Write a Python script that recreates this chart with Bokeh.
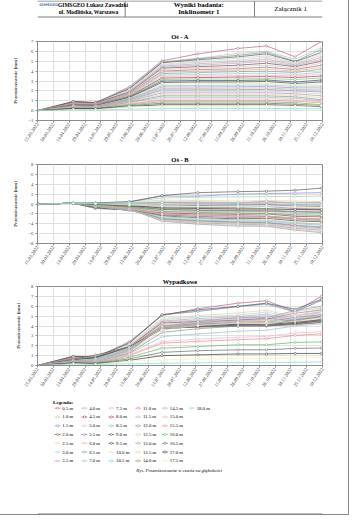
from datetime import datetime
from bokeh.plotting import figure
from bokeh.layouts import column
from bokeh.models import Range1d, FixedTicker, DatetimeTickFormatter
from bokeh.core.properties import value
from bokeh.embed import file_html
from bokeh.resources import INLINE

# ---------------- data ----------------
measure_dates = ["15.03.2022", "18.04.2022", "09.05.2022", "10.06.2022", "11.07.2022",
                 "14.08.2022", "21.09.2022", "18.10.2022", "14.11.2022", "09.12.2022"]

tick_labels = ["15.03.2022", "30.03.2022", "14.04.2022", "29.04.2022", "14.05.2022",
               "29.05.2022", "13.06.2022", "28.06.2022", "13.07.2022", "28.07.2022",
               "12.08.2022", "27.08.2022", "11.09.2022", "26.09.2022", "11.10.2022",
               "26.10.2022", "10.11.2022", "25.11.2022", "10.12.2022"]

depths = ["0.5 m", "1.0 m", "1.5 m", "2.0 m", "2.5 m", "3.0 m", "3.5 m",
          "4.0 m", "4.5 m", "5.0 m", "5.5 m", "6.0 m", "6.5 m", "7.0 m",
          "7.5 m", "8.0 m", "8.5 m", "9.0 m", "9.5 m", "10.0 m", "10.5 m",
          "11.0 m", "11.5 m", "12.0 m", "12.5 m", "13.0 m", "13.5 m", "14.0 m",
          "14.5 m", "15.0 m", "15.5 m", "16.0 m", "16.5 m", "17.0 m", "17.5 m",
          "18.0 m"]

colors = ["#c0608a", "#a0d8a0", "#8888cc", "#5a5a5a", "#f2cc95", "#98dfe6", "#cc95c0",
          "#b0b0b0", "#8c4060", "#dcc8a0", "#7878b0", "#f2b070", "#78a0a0", "#a8b8cc",
          "#f2b0bc", "#a03a55", "#78c878", "#3a4a78", "#484848", "#f2e69a", "#66d8cc",
          "#cc7acc", "#a8c0a8", "#9488b0", "#cccccc", "#a0a0a0", "#e6ccb0", "#909090",
          "#98c0c0", "#f2b4cc", "#e88888", "#5cbc5c", "#686868", "#383838", "#f2f2b4",
          "#7cd8d8"]

os_a = [
    [0, 0.85, 0.80, 2.40, 5.05, 5.75, 6.30, 6.55, 5.45, 7.00],
    [0, 0.95, 0.85, 2.30, 4.95, 5.30, 5.80, 6.00, 5.20, 6.40],
    [0, 0.90, 0.82, 2.25, 4.90, 5.25, 5.60, 5.90, 5.00, 6.20],
    [0, 0.92, 0.80, 2.20, 4.85, 5.15, 5.45, 5.75, 4.95, 5.90],
    [0, 0.80, 0.75, 2.10, 4.70, 5.00, 5.30, 5.55, 4.85, 5.80],
    [0, 0.78, 0.72, 2.05, 4.60, 4.90, 5.10, 5.40, 4.75, 5.60],
    [0, 0.75, 0.70, 1.95, 4.50, 4.75, 4.95, 5.20, 4.65, 5.40],
    [0, 0.72, 0.68, 1.90, 4.40, 4.60, 4.80, 5.00, 4.55, 5.20],
    [0, 0.88, 0.78, 1.85, 4.30, 4.45, 4.60, 4.80, 4.45, 5.00],
    [0, 0.70, 0.65, 1.80, 4.15, 4.30, 4.45, 4.60, 4.30, 4.80],
    [0, 0.68, 0.62, 1.75, 4.00, 4.15, 4.25, 4.40, 4.15, 4.60],
    [0, 0.65, 0.60, 1.70, 3.90, 4.00, 4.10, 4.20, 4.00, 4.40],
    [0, 0.62, 0.58, 1.62, 3.75, 3.85, 3.95, 4.00, 3.85, 4.20],
    [0, 0.60, 0.55, 1.55, 3.60, 3.65, 3.75, 3.80, 3.65, 3.90],
    [0, 0.58, 0.52, 1.50, 3.45, 3.50, 3.55, 3.60, 3.50, 3.70],
    [0, 0.62, 0.56, 1.45, 3.30, 3.35, 3.40, 3.45, 3.35, 3.50],
    [0, 0.55, 0.50, 1.40, 3.15, 3.20, 3.20, 3.25, 3.15, 3.30],
    [0, 0.52, 0.48, 1.35, 3.00, 3.05, 3.05, 3.10, 2.90, 3.10],
    [0, 0.50, 0.46, 1.30, 2.85, 2.90, 2.90, 2.95, 2.75, 2.90],
    [0, 0.48, 0.44, 1.25, 2.70, 2.72, 2.75, 2.78, 2.60, 2.70],
    [0, 0.46, 0.42, 1.20, 2.55, 2.55, 2.58, 2.60, 2.45, 2.50],
    [0, 0.45, 0.40, 1.15, 2.40, 2.40, 2.42, 2.45, 2.30, 2.30],
    [0, 0.42, 0.38, 1.10, 2.25, 2.25, 2.28, 2.30, 2.15, 2.10],
    [0, 0.40, 0.36, 1.05, 2.10, 2.10, 2.12, 2.15, 2.00, 1.90],
    [0, 0.38, 0.34, 1.00, 1.95, 1.95, 1.95, 1.98, 1.85, 1.70],
    [0, 0.36, 0.32, 0.95, 1.80, 1.80, 1.80, 1.82, 1.70, 1.50],
    [0, 0.34, 0.30, 0.90, 1.65, 1.65, 1.65, 1.66, 1.55, 1.30],
    [0, 0.32, 0.28, 0.85, 1.50, 1.50, 1.50, 1.50, 1.40, 1.10],
    [0, 0.30, 0.26, 0.80, 1.35, 1.35, 1.35, 1.35, 1.25, 1.00],
    [0, 0.28, 0.25, 0.72, 1.20, 1.20, 1.20, 1.20, 1.10, 0.90],
    [0, 0.26, 0.23, 0.65, 1.05, 1.05, 1.05, 1.05, 0.95, 0.80],
    [0, 0.24, 0.22, 0.58, 0.90, 0.90, 0.90, 0.90, 0.80, 0.60],
    [0, 0.22, 0.20, 0.50, 0.75, 0.75, 0.75, 0.75, 0.65, 0.50],
    [0, 0.20, 0.18, 0.42, 0.60, 0.60, 0.60, 0.60, 0.52, 0.40],
    [0, 0.10, 0.10, 0.40, 0.40, 0.42, 0.42, 0.45, 0.45, 0.50],
    [0, 0.05, 0.05, 0.15, 0.20, 0.22, 0.22, 0.22, 0.20, 0.20],
]

os_b = [
    [0, 0.15, 0.10, 0.20, 0.30, 0.35, 0.30, 0.40, 0.30, 0.30],
    [0, 0.15, 0.20, 0.45, 1.20, 1.40, 1.45, 1.50, 1.50, 1.60],
    [0, 0.15, 0.20, 0.50, 1.60, 1.60, 2.00, 2.10, 2.20, 2.30],
    [0, 0.15, 0.20, 0.40, 1.70, 2.30, 2.50, 2.60, 2.80, 3.20],
    [0, 0.15, 0.10, 0.30, 0.80, 0.70, 0.60, 0.70, 0.60, 0.50],
    [0, 0.15, 0.10, 0.20, 0.50, 0.40, 0.30, 0.40, 0.30, 0.20],
    [0, 0.15, 0.00, 0.00, 0.20, 0.10, 0.00, 0.10, -0.10, -0.20],
    [0, 0.15, 0.05, 0.10, 0.30, 0.20, 0.10, 0.60, 0.00, 0.00],
    [0, 0.15, -0.30, -0.40, -0.20, -0.30, -0.20, -0.10, -0.40, -0.50],
    [0, 0.15, -0.20, -0.50, -0.40, -0.50, -0.50, -0.40, -0.70, -0.80],
    [0, 0.15, -0.40, -0.60, -0.60, -0.70, -0.70, -0.50, -0.90, -1.00],
    [0, 0.15, -0.50, -0.80, -0.90, -1.00, -1.00, -0.90, -1.20, -1.30],
    [0, 0.15, -0.60, -0.90, -1.10, -1.20, -1.30, -1.20, -1.50, -1.60],
    [0, 0.15, -0.70, -1.00, -1.40, -1.50, -1.60, -1.50, -1.90, -2.00],
    [0, 0.15, -0.80, -1.10, -1.60, -1.70, -1.80, -1.80, -2.20, -2.30],
    [0, 0.15, -0.90, -1.20, -1.80, -2.00, -2.10, -2.00, -2.50, -2.60],
    [0, 0.15, -0.80, -1.20, -2.00, -2.30, -2.40, -2.40, -2.80, -3.00],
    [0, 0.15, -0.70, -1.25, -2.20, -2.50, -2.70, -2.60, -3.10, -3.30],
    [0, 0.15, -0.60, -1.30, -2.40, -2.80, -3.00, -2.90, -3.40, -3.60],
    [0, 0.15, -0.50, -1.30, -2.60, -3.00, -3.30, -3.20, -3.70, -4.00],
    [0, 0.15, -0.50, -1.25, -2.80, -3.20, -3.50, -3.50, -4.00, -4.30],
    [0, 0.15, -0.40, -1.20, -3.00, -3.40, -3.70, -3.70, -4.30, -4.60],
    [0, 0.15, -0.40, -1.15, -3.10, -3.60, -3.90, -4.00, -4.60, -5.00],
    [0, 0.15, -0.30, -1.10, -3.20, -3.80, -4.10, -4.20, -4.90, -5.30],
    [0, 0.15, -0.30, -1.05, -3.35, -3.95, -4.30, -4.40, -5.10, -5.60],
    [0, 0.15, -0.25, -1.00, -3.50, -4.10, -4.50, -4.50, -5.30, -5.80],
    [0, 0.15, -0.20, -0.95, -3.20, -3.70, -4.00, -4.10, -4.80, -5.20],
    [0, 0.15, -0.20, -0.90, -3.00, -3.40, -3.70, -3.80, -4.40, -4.80],
    [0, 0.15, -0.15, -0.85, -2.60, -2.90, -3.20, -3.30, -3.80, -4.10],
    [0, 0.15, -0.15, -0.80, -2.10, -2.40, -2.60, -2.70, -3.10, -3.30],
    [0, 0.15, -0.10, -0.75, -2.00, -2.20, -2.40, -2.50, -2.90, -3.10],
    [0, 0.15, -0.10, -0.60, -1.50, -1.70, -1.90, -1.90, -2.20, -2.30],
    [0, 0.15, -0.05, -0.45, -1.10, -1.30, -1.40, -1.40, -1.60, -1.70],
    [0, 0.15, 0.00, -0.30, -0.80, -0.90, -1.00, -1.00, -1.10, -1.15],
    [0, 0.15, 0.05, -0.20, -0.40, -0.50, -0.55, -0.55, -0.60, -0.65],
    [0, 0.15, 0.10, 0.10, -0.10, -0.15, -0.20, -0.20, -0.25, -0.30],
]

wypadkowe = [
    [0, 0.86, 0.81, 2.41, 5.06, 5.76, 6.31, 6.56, 5.46, 7.01],
    [0, 0.96, 0.87, 2.34, 5.09, 5.48, 5.98, 6.18, 5.41, 6.60],
    [0, 0.91, 0.84, 2.30, 5.15, 5.49, 5.95, 6.26, 5.46, 6.61],
    [0, 0.93, 0.82, 2.24, 5.14, 5.64, 6.00, 6.31, 5.69, 6.71],
    [0, 0.81, 0.76, 2.12, 4.77, 5.05, 5.33, 5.59, 4.89, 5.82],
    [0, 0.79, 0.73, 2.06, 4.63, 4.92, 5.11, 5.41, 4.76, 5.60],
    [0, 0.76, 0.70, 1.95, 4.50, 4.75, 4.95, 5.20, 4.65, 5.40],
    [0, 0.74, 0.68, 1.90, 4.41, 4.60, 4.80, 5.04, 4.55, 5.20],
    [0, 0.89, 0.84, 1.89, 4.30, 4.46, 4.60, 4.80, 4.47, 5.02],
    [0, 0.72, 0.68, 1.87, 4.17, 4.33, 4.48, 4.62, 4.36, 4.87],
    [0, 0.70, 0.74, 1.85, 4.04, 4.21, 4.31, 4.43, 4.25, 4.71],
    [0, 0.67, 0.78, 1.88, 4.00, 4.12, 4.22, 4.30, 4.18, 4.59],
    [0, 0.64, 0.83, 1.85, 3.91, 4.03, 4.16, 4.18, 4.13, 4.49],
    [0, 0.62, 0.89, 1.84, 3.86, 3.95, 4.08, 4.09, 4.11, 4.38],
    [0, 0.60, 0.95, 1.86, 3.80, 3.89, 3.98, 4.02, 4.13, 4.36],
    [0, 0.64, 1.06, 1.88, 3.76, 3.90, 4.00, 3.99, 4.18, 4.36],
    [0, 0.57, 0.94, 1.84, 3.73, 3.94, 4.00, 4.04, 4.21, 4.46],
    [0, 0.54, 0.85, 1.84, 3.72, 3.94, 4.07, 4.05, 4.25, 4.53],
    [0, 0.52, 0.76, 1.84, 3.73, 4.03, 4.17, 4.14, 4.37, 4.62],
    [0, 0.50, 0.67, 1.80, 3.75, 4.05, 4.30, 4.24, 4.52, 4.83],
    [0, 0.48, 0.65, 1.73, 3.79, 4.09, 4.35, 4.36, 4.69, 4.97],
    [0, 0.47, 0.57, 1.66, 3.84, 4.16, 4.42, 4.44, 4.88, 5.14],
    [0, 0.45, 0.55, 1.59, 3.83, 4.25, 4.52, 4.61, 5.08, 5.42],
    [0, 0.43, 0.47, 1.52, 3.83, 4.34, 4.62, 4.72, 5.29, 5.63],
    [0, 0.41, 0.45, 1.45, 3.88, 4.41, 4.72, 4.83, 5.43, 5.85],
    [0, 0.39, 0.41, 1.38, 3.94, 4.48, 4.85, 4.85, 5.57, 5.99],
    [0, 0.37, 0.36, 1.31, 3.60, 4.05, 4.33, 4.42, 5.04, 5.36],
    [0, 0.35, 0.34, 1.24, 3.35, 3.72, 3.99, 4.09, 4.62, 4.92],
    [0, 0.34, 0.30, 1.17, 2.93, 3.20, 3.47, 3.57, 4.00, 4.22],
    [0, 0.32, 0.29, 1.08, 2.42, 2.68, 2.86, 2.95, 3.29, 3.42],
    [0, 0.30, 0.25, 0.99, 2.26, 2.44, 2.62, 2.71, 3.05, 3.20],
    [0, 0.28, 0.24, 0.83, 1.75, 1.92, 2.10, 2.10, 2.34, 2.38],
    [0, 0.27, 0.21, 0.67, 1.33, 1.50, 1.59, 1.59, 1.73, 1.77],
    [0, 0.25, 0.18, 0.52, 1.00, 1.08, 1.17, 1.17, 1.22, 1.22],
    [0, 0.18, 0.11, 0.45, 0.57, 0.65, 0.69, 0.71, 0.75, 0.82],
    [0, 0.16, 0.11, 0.18, 0.22, 0.27, 0.30, 0.30, 0.32, 0.36],
]

y_ticks_a = [-1, 0, 1, 2, 3, 4, 5, 6, 7]
y_ticks_b = [-8, -6, -4, -2, 0, 2, 4, 6, 8]
y_ticks_c = [0, 1, 2, 3, 4, 5, 6, 7, 8]

# ---------------- helpers ----------------
SERIF = "Liberation Serif"
W = 348
EPOCH = datetime(1970, 1, 1)


def to_dt(s):
    return datetime.strptime(s, "%d.%m.%Y")


def to_ms(s):
    return (to_dt(s) - EPOCH).total_seconds() * 1000.0


x_dates = [to_dt(s) for s in measure_dates]
x_ticks = [to_ms(s) for s in tick_labels]
x_start = to_dt(tick_labels[0])
x_end = to_dt(tick_labels[-1])


def deco(h):
    p = figure(width=W, height=h, x_range=Range1d(0, W), y_range=Range1d(h, 0),
               output_backend="svg", toolbar_location=None, min_border=0,
               x_axis_type=None, y_axis_type=None, outline_line_color=None)
    p.background_fill_color = "white"
    p.border_fill_color = "white"
    return p


def chart(title, series, y0, y1, yticks, height, top, bottom):
    p = figure(width=W, height=height, x_axis_type="datetime",
               x_range=Range1d(x_start, x_end), y_range=Range1d(y0, y1),
               output_backend="svg", toolbar_location=None, title=title,
               min_border_left=37, min_border_right=26,
               min_border_top=top, min_border_bottom=bottom)
    p.title.align = "center"
    p.title.text_font = SERIF
    p.title.text_font_size = "6.5px"
    p.title.text_font_style = "bold"
    p.title.text_color = "black"
    p.title.standoff = 3
    p.outline_line_color = "#8c8c8c"
    p.outline_line_width = 1

    xt = FixedTicker(ticks=x_ticks)
    p.xaxis.ticker = xt
    p.xgrid.ticker = xt
    fmt = "%d.%m.%Y"
    p.xaxis.formatter = DatetimeTickFormatter(
        microseconds=fmt, milliseconds=fmt, seconds=fmt, minsec=fmt, minutes=fmt,
        hourmin=fmt, hours=fmt, days=fmt, months=fmt, years=fmt)
    p.xaxis.major_label_orientation = 0.98
    p.xaxis.major_label_text_font = SERIF
    p.xaxis.major_label_text_font_size = "4.8px"
    p.xaxis.major_label_standoff = 1

    yt = FixedTicker(ticks=yticks)
    p.yaxis.ticker = yt
    p.ygrid.ticker = yt
    p.yaxis.major_label_text_font = SERIF
    p.yaxis.major_label_text_font_size = "4.8px"
    p.yaxis.major_label_standoff = 2
    p.yaxis.axis_label = "Przemieszczenie [mm]"
    p.yaxis.axis_label_text_font = SERIF
    p.yaxis.axis_label_text_font_size = "4.8px"
    p.yaxis.axis_label_text_font_style = "bold"
    p.yaxis.axis_label_standoff = 7

    for ax in (p.xaxis, p.yaxis):
        ax.axis_line_color = "#8c8c8c"
        ax.major_tick_line_color = "#8c8c8c"
        ax.major_tick_out = 2
        ax.major_tick_in = 0
        ax.minor_tick_line_color = None
    p.xgrid.grid_line_color = "#e0e0e0"
    p.ygrid.grid_line_color = "#e0e0e0"

    for vals, col in zip(series, colors):
        p.line(x_dates, vals, line_color=col, line_width=0.7)
        p.scatter(x_dates, vals, marker="circle", size=2.2, fill_color="white",
                  line_color=col, line_width=0.5)
    return p


# ---------------- header ----------------
hdr = deco(24)
hdr.segment(x0=[0, 0, 107, 265], y0=[0.5, 16.5, 0.5, 0.5],
            x1=[W, W, 107, 265], y1=[0.5, 16.5, 16.5, 16.5],
            line_color="#7f7f7f", line_width=1)
hdr.text(x=[2], y=[4.5], text=["GIMSGEO"], text_font=value("DejaVu Sans"),
         text_font_size="3.6px", text_font_style="bold", text_color="#5878a8",
         text_baseline="middle", text_align="left")
hdr.text(x=[25, 26], y=[4.5, 11.5],
         text=["GIMSGEO Łukasz Zawadzki", "ul. Modlińska, Warszawa"],
         text_font=value(SERIF), text_font_size="5.5px", text_font_style="bold",
         text_baseline="middle", text_align="left", text_color="black")
hdr.text(x=[197, 197], y=[4.5, 11.5], text=["Wyniki badania:", "Inklinometr 1"],
         text_font=value(SERIF), text_font_size="7px", text_font_style="bold",
         text_baseline="middle", text_align="center", text_color="black")
hdr.text(x=[309], y=[8.5], text=["Załącznik 1"], text_font=value(SERIF),
         text_font_size="7px", text_baseline="middle", text_align="center",
         text_color="black")

# ---------------- charts ----------------
pa = chart("Oś - A", os_a, -1, 7, y_ticks_a, 126, 17, 30)
pb = chart("Oś - B", os_b, -8, 8, y_ticks_b, 122, 14, 29)
pc = chart("Wypadkowe", wypadkowe, 0, 8, y_ticks_c, 123, 14, 30)

# ---------------- legend + caption ----------------
leg = deco(119)
leg.text(x=[19], y=[6.7], text=["Legenda:"], text_font=value(SERIF),
         text_font_size="5px", text_font_style="bold", text_baseline="middle",
         text_color="black")
sx0, sx1, mx, tx, ty = [], [], [], [], []
for k in range(len(depths)):
    col, row = divmod(k, 7)
    x0 = 21 + col * 32.8
    y = 12.7 + row * 8.77
    sx0.append(x0)
    sx1.append(x0 + 7)
    mx.append(x0 + 3.5)
    tx.append(x0 + 9.3)
    ty.append(y)
leg.segment(x0=sx0, y0=ty, x1=sx1, y1=ty, line_color=colors, line_width=0.7)
leg.scatter(x=mx, y=ty, marker="circle", size=2.2, fill_color="white",
            line_color=colors, line_width=0.5)
leg.text(x=tx, y=ty, text=depths, text_font=value(SERIF), text_font_size="4.8px",
         text_baseline="middle", text_align="left", text_color="black")
leg.text(x=[173], y=[75.3], text=["Rys. Przemieszczenie w czasie na głębokości"],
         text_font=value(SERIF), text_font_size="4.8px", text_font_style="italic",
         text_baseline="middle", text_align="center", text_color="black")
leg.segment(x0=[0], y0=[118.5], x1=[W], y1=[118.5], line_color="#7f7f7f", line_width=1)

page = column(hdr, pa, pb, pc, leg, spacing=0,
              styles={"outline": "1px solid #8a8a8a"})

open("out.html", "w").write(file_html(page, INLINE))
